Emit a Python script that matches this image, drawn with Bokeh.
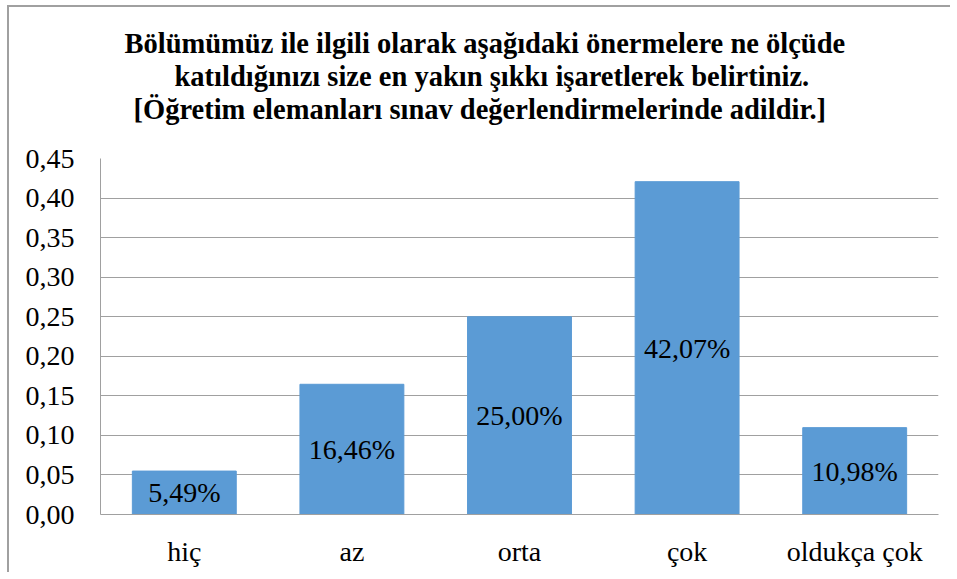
from bokeh.plotting import figure
from bokeh.models import ColumnDataSource, FactorRange, Range1d, FixedTicker, CustomJSTickFormatter, Title
from bokeh.core.properties import value
from bokeh.embed import file_html
from bokeh.resources import INLINE

categories = ["hiç", "az", "orta", "çok", "oldukça çok"]
shares = [0.0549, 0.1646, 0.2500, 0.4207, 0.1098]
bar_labels = ["5,49%", "16,46%", "25,00%", "42,07%", "10,98%"]
y_ticks = [0.0, 0.05, 0.10, 0.15, 0.20, 0.25, 0.30, 0.35, 0.40, 0.45]
title_lines = [
    "Bölümümüz ile ilgili olarak aşağıdaki önermelere ne ölçüde",
    "katıldığınızı size en yakın şıkkı işaretlerek belirtiniz.",
    "[Öğretim elemanları sınav değerlendirmelerinde adildir.]",
]

SERIF = "Liberation Serif"

src = ColumnDataSource(dict(
    cat=categories,
    val=shares,
    mid=[v / 2 for v in shares],
    lab=bar_labels,
))

p = figure(
    x_range=FactorRange(*categories, range_padding=0),
    y_range=Range1d(0, 0.45),
    width=943, height=567,
    output_backend="svg", toolbar_location=None,
    min_border_left=91, min_border_right=14, min_border_top=151, min_border_bottom=60,
)
p.title = None
p.styles = {"border-top": "2px solid #a0a0a0", "border-left": "2px solid #a0a0a0",
            "margin-left": "7px", "margin-top": "5px"}
p.outline_line_color = None

p.vbar(x="cat", top="val", width=0.62, source=src, fill_color="#5B9BD5", line_color="#5B9BD5")
p.text(x="cat", y="mid", text="lab", source=src, text_align="center", text_baseline="middle",
       text_font=value(SERIF), text_font_size="28px", text_color="black")

p.yaxis.ticker = FixedTicker(ticks=y_ticks)
p.yaxis.formatter = CustomJSTickFormatter(code="return tick.toFixed(2).replace('.', ',');")
for ax in (p.xaxis, p.yaxis):
    ax.major_label_text_font = SERIF
    ax.major_label_text_font_size = "28px"
    ax.major_label_text_color = "black"
    ax.major_tick_line_color = None
    ax.minor_tick_line_color = None
    ax.axis_line_color = "#a0a0a0"
p.yaxis.major_label_standoff = 20
p.xaxis.major_label_standoff = 15

p.xgrid.grid_line_color = None
p.ygrid.grid_line_color = "#a0a0a0"
p.ygrid.ticker = FixedTicker(ticks=y_ticks)

# spacer between the title block and the plot frame
p.add_layout(Title(text=" ", text_font_size="10px", standoff=21), "above")
offsets = [24, 74, 33]
for line, off in reversed(list(zip(title_lines, offsets))):
    t = Title(text=line, align="left", offset=off, text_font=SERIF, text_font_size="28.5px",
              text_font_style="bold", text_color="black", standoff=0, text_line_height=0.9)
    p.add_layout(t, "above")

open("out.html", "w").write(file_html(p, INLINE))
